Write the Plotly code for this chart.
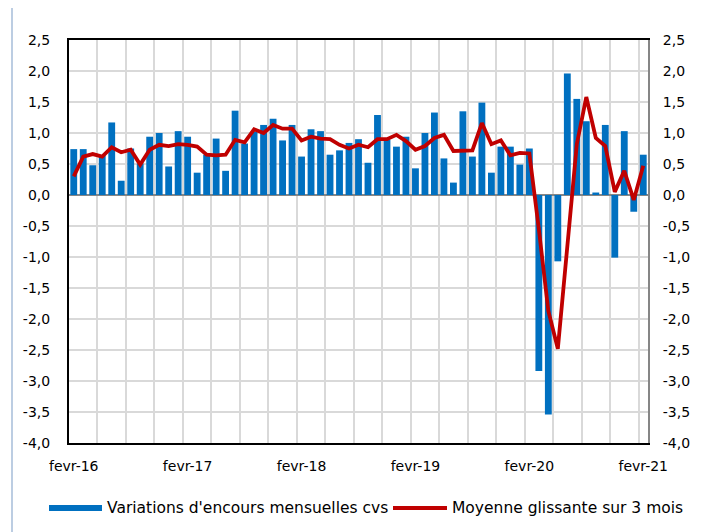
import plotly.graph_objects as go

# ---------------- data ----------------
months = [
    "fevr-16", "mars-16", "avr-16", "mai-16", "juin-16", "juil-16", "aout-16", "sept-16", "oct-16", "nov-16", "dec-16",
    "janv-17", "fevr-17", "mars-17", "avr-17", "mai-17", "juin-17", "juil-17", "aout-17", "sept-17", "oct-17", "nov-17", "dec-17",
    "janv-18", "fevr-18", "mars-18", "avr-18", "mai-18", "juin-18", "juil-18", "aout-18", "sept-18", "oct-18", "nov-18", "dec-18",
    "janv-19", "fevr-19", "mars-19", "avr-19", "mai-19", "juin-19", "juil-19", "aout-19", "sept-19", "oct-19", "nov-19", "dec-19",
    "janv-20", "fevr-20", "mars-20", "avr-20", "mai-20", "juin-20", "juil-20", "aout-20", "sept-20", "oct-20", "nov-20", "dec-20",
    "janv-21", "fevr-21",
]

variations = [
    0.74, 0.74, 0.48, 0.64, 1.17, 0.23, 0.75, 0.51, 0.94, 1.00, 0.46,
    1.03, 0.94, 0.36, 0.65, 0.91, 0.39, 1.36, 0.83, 1.02, 1.13, 1.23, 0.88,
    1.13, 0.62, 1.06, 1.03, 0.65, 0.72, 0.84, 0.90, 0.52, 1.29, 0.89, 0.78,
    0.94, 0.43, 1.00, 1.33, 0.59, 0.20, 1.35, 0.62, 1.49, 0.36, 0.78, 0.78,
    0.49, 0.75, -2.84, -3.54, -1.07, 1.96, 1.55, 1.19, 0.04, 1.13, -1.01, 1.03,
    -0.27, 0.65,
]

moyenne = [
    0.30, 0.62, 0.66, 0.62, 0.77, 0.69, 0.73, 0.49, 0.73, 0.81, 0.79,
    0.82, 0.81, 0.78, 0.65, 0.64, 0.65, 0.89, 0.85, 1.06, 1.00, 1.13, 1.07,
    1.07, 0.88, 0.94, 0.91, 0.90, 0.81, 0.75, 0.81, 0.77, 0.90, 0.90, 0.97,
    0.87, 0.73, 0.79, 0.92, 0.97, 0.71, 0.72, 0.72, 1.16, 0.82, 0.88, 0.64,
    0.68, 0.67, -0.55, -1.87, -2.48, -0.89, 0.82, 1.58, 0.92, 0.79, 0.05, 0.39,
    -0.08, 0.47,
]

xtick_labels = ["fevr-16", "fevr-17", "fevr-18", "fevr-19", "fevr-20", "fevr-21"]
ytick_vals = [-4.0, -3.5, -3.0, -2.5, -2.0, -1.5, -1.0, -0.5, 0.0, 0.5, 1.0, 1.5, 2.0, 2.5]
ytick_text = ["-4,0", "-3,5", "-3,0", "-2,5", "-2,0", "-1,5", "-1,0", "-0,5",
              "0,0", "0,5", "1,0", "1,5", "2,0", "2,5"]

name_bars = "Variations d'encours mensuelles cvs"
name_line = "Moyenne glissante sur 3 mois"

# ---------------- styles ----------------
BLUE = "#0070C0"
RED = "#C00000"
GRID = "#D9D9D9"
FONT = "DejaVu Sans"

# page has an 8px body margin: figure drawn at offset (8, 8)
OFF = 8
W, H = 701 - OFF, 532 - OFF
L, T = 69 - OFF, 40 - OFF
PW, PH = 579, 403
R = W - L - PW
B = H - T - PH

idx = list(range(len(months)))
tick_idx = [months.index(m) for m in xtick_labels]

fig = go.Figure()
fig.add_trace(go.Bar(
    x=idx, y=variations, customdata=months, name=name_bars,
    marker=dict(color=BLUE, line=dict(width=0)), showlegend=False,
    hovertemplate="%{customdata}: %{y}<extra></extra>",
))
fig.add_trace(go.Scatter(
    x=idx, y=moyenne, customdata=months, name=name_line, mode="lines",
    line=dict(color=RED, width=3.8), yaxis="y2", showlegend=False,
    hovertemplate="%{customdata}: %{y}<extra></extra>",
))

yr = [-4.0, 2.5]
fig.update_layout(
    width=W, height=H,
    margin=dict(l=L, r=R, t=T, b=B, autoexpand=False),
    paper_bgcolor="white", plot_bgcolor="white",
    font=dict(family=FONT, size=14, color="black"),
    bargap=0.28,
    xaxis=dict(
        range=[-0.5, len(months) - 0.5],
        tickmode="array", tickvals=tick_idx, ticktext=xtick_labels,
        showgrid=False, zeroline=False, ticks="",
        showline=True, linecolor="black", linewidth=2, mirror=True,
        ticklabelstandoff=9,
        minor=dict(tick0=2.5, dtick=3, showgrid=True, gridcolor=GRID, gridwidth=2, ticks=""),
    ),
    yaxis=dict(
        range=yr, tickmode="array", tickvals=ytick_vals, ticktext=ytick_text,
        showgrid=True, gridcolor=GRID, gridwidth=2,
        zeroline=True, zerolinecolor="#868686", zerolinewidth=2,
        showline=True, linecolor="black", linewidth=2, ticks="",
        ticklabelstandoff=14,
    ),
    yaxis2=dict(
        range=yr, overlaying="y", side="right",
        tickmode="array", tickvals=ytick_vals, ticktext=ytick_text,
        showgrid=False, zeroline=False,
        showline=True, linecolor="#868686", linewidth=2, ticks="",
        ticklabelstandoff=10,
    ),
)

# pixel (in reference image) -> paper coords
px2x = lambda p: (p - 69) / float(PW)
px2y = lambda p: (443 - p) / float(PH)

# thin frame line at far left of chart area
fig.add_shape(type="line", xref="paper", yref="paper",
              x0=px2x(12), x1=px2x(12), y0=px2y(540), y1=px2y(0),
              line=dict(color="#A6BCD9", width=1.5))

# manual legend
fig.add_shape(type="rect", xref="paper", yref="paper",
              x0=px2x(49), x1=px2x(102), y0=px2y(511), y1=px2y(505),
              fillcolor=BLUE, line=dict(width=0))
fig.add_annotation(xref="paper", yref="paper", x=px2x(105), y=px2y(508),
                   text=name_bars, showarrow=False, xanchor="left", yanchor="middle",
                   font=dict(family=FONT, size=15.5, color="black"))
fig.add_shape(type="line", xref="paper", yref="paper",
              x0=px2x(393), x1=px2x(447), y0=px2y(508), y1=px2y(508),
              line=dict(color=RED, width=3.8))
fig.add_annotation(xref="paper", yref="paper", x=px2x(450), y=px2y(508),
                   text=name_line, showarrow=False, xanchor="left", yanchor="middle",
                   font=dict(family=FONT, size=15.5, color="black"))

fig.write_html("out.html")
